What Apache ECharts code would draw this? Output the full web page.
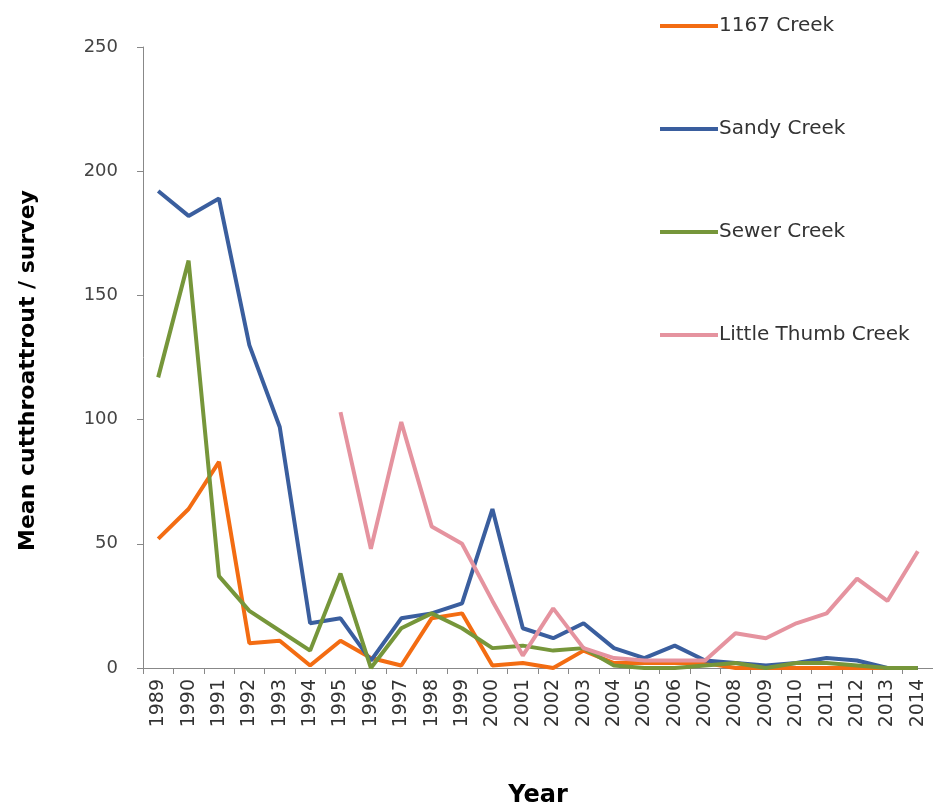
<!DOCTYPE html>
<html>
<head>
<meta charset="utf-8">
<script src="https://cdn.jsdelivr.net/npm/echarts@6/dist/echarts.min.js"></script>
<style>
  html, body { margin: 0; padding: 0; background: #fff; }
  #main { width: 933px; height: 811px; }
</style>
</head>
<body>
<div id="main"></div>
<script>
var years = ['1989', '1990', '1991', '1992', '1993', '1994', '1995', '1996', '1997', '1998', '1999', '2000', '2001',
  '2002', '2003', '2004', '2005', '2006', '2007', '2008', '2009', '2010', '2011', '2012', '2013', '2014'];

var creek1167 = [52, 64, 83, 10, 11, 1, 11, 4, 1, 20, 22, 1, 2, 0, 7, 2, 2, 2, 2, 0, 0, 0, 0, 0, 0, 0];
var sandyCreek = [192, 182, 189, 130, 97, 18, 20, 3, 20, 22, 26, 64, 16, 12, 18, 8, 4, 9, 3, 2, 1, 2, 4, 3, 0, 0];
var sewerCreek = [117, 164, 37, 23, 15, 7, 38, 0, 16, 22, 16, 8, 9, 7, 8, 1, 0, 0, 1, 2, 0, 2, 2, 1, 0, 0];
var littleThumbCreek = [null, null, null, null, null, null, 103, 48, 99, 57, 50, 27, 5, 24, 8, 4, 3, 3, 3, 14, 12, 18, 22, 36, 27, 47];

var myChart = echarts.init(document.getElementById('main'));

function lineSeries(name, data, color) {
  return {
    name: name,
    type: 'line',
    data: data,
    showSymbol: false,
    symbol: 'none',
    connectNulls: false,
    lineStyle: { color: color, width: 4 },
    itemStyle: { color: color }
  };
}

var option = {
  backgroundColor: '#fff',
  animation: false,
  legend: {
    orient: 'vertical',
    left: 655,
    top: 11,
    icon: 'rect',
    itemWidth: 58,
    itemHeight: 4,
    itemGap: 83,
    textStyle: { fontFamily: 'DejaVu Sans', fontSize: 20, color: '#333', padding: [0, 0, 0, -4] },
    data: ['1167 Creek', 'Sandy Creek', 'Sewer Creek', 'Little Thumb Creek']
  },
  grid: {
    left: 143,
    right: 0,
    top: 47,
    bottom: 143,
    containLabel: false,
    outerBoundsMode: 'none'
  },
  xAxis: {
    type: 'category',
    data: years,
    boundaryGap: true,
    name: 'Year',
    nameLocation: 'middle',
    nameGap: 116,
    nameTextStyle: { fontFamily: 'DejaVu Sans', fontSize: 24, fontWeight: 'bold', color: '#000' },
    axisLine: { lineStyle: { color: '#888', width: 1 } },
    axisTick: { show: true, alignWithLabel: false, length: 6, lineStyle: { color: '#888' } },
    axisLabel: { rotate: 90, interval: 0, margin: 11, fontFamily: 'DejaVu Sans', fontSize: 19, color: '#333' },
    splitLine: { show: false }
  },
  yAxis: {
    type: 'value',
    min: 0,
    max: 250,
    interval: 50,
    name: 'Mean cutthroattrout / survey',
    nameLocation: 'middle',
    nameGap: 104,
    nameTextStyle: { fontFamily: 'DejaVu Sans', fontSize: 22, fontWeight: 'bold', color: '#000', padding: [0, 26, 0, 0] },
    axisLine: { show: true, lineStyle: { color: '#888', width: 1 } },
    axisTick: { show: true, length: 6, lineStyle: { color: '#888' } },
    axisLabel: { margin: 25, fontFamily: 'DejaVu Sans', fontSize: 18, color: '#444' },
    splitLine: { show: false }
  },
  series: [
    lineSeries('1167 Creek', creek1167, '#F36C12'),
    lineSeries('Sandy Creek', sandyCreek, '#3A5E9E'),
    lineSeries('Sewer Creek', sewerCreek, '#76963A'),
    lineSeries('Little Thumb Creek', littleThumbCreek, '#E5939F')
  ]
};

myChart.setOption(option);
</script>
</body>
</html>
